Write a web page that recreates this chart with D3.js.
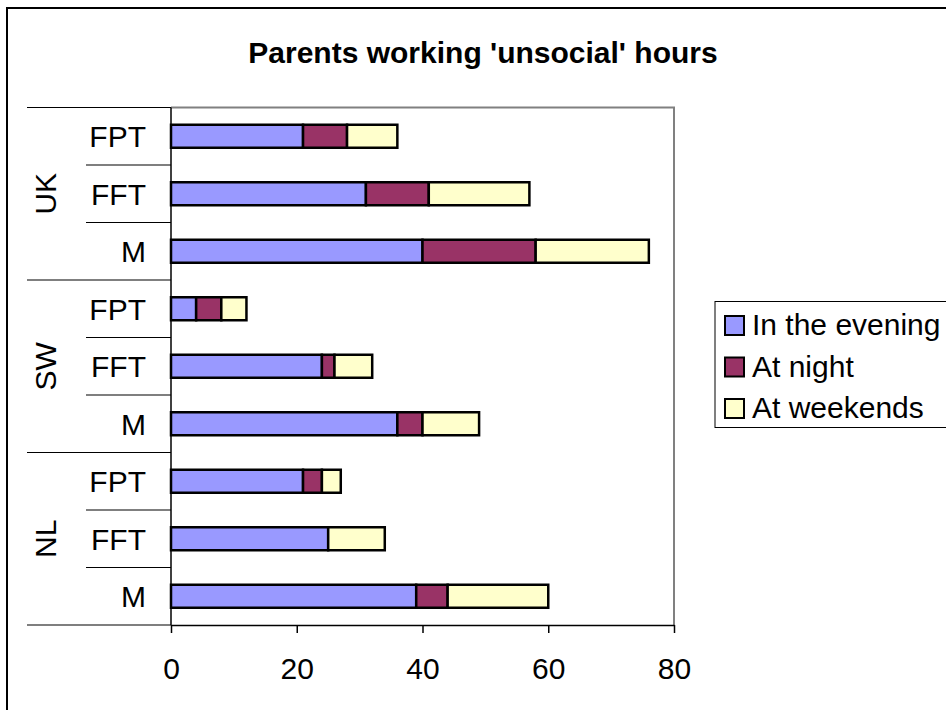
<!DOCTYPE html>
<html>
<head>
<meta charset="utf-8">
<script src="https://cdn.jsdelivr.net/npm/d3@7"></script>
<style>
  html, body { margin: 0; padding: 0; background: #fff; }
  svg { display: block; font-family: Arial, "Liberation Sans", sans-serif; }
</style>
</head>
<body>
<svg id="chart" width="946" height="710"></svg>
<script>
// ---- data ----
const title = "Parents working 'unsocial' hours";
const groups = ["UK", "SW", "NL"];
const subcats = ["FPT", "FFT", "M"];
const seriesNames = ["In the evening", "At night", "At weekends"];
const seriesColors = ["#9999FF", "#993366", "#FFFFCC"];
// values in row order: UK FPT, UK FFT, UK M, SW FPT, SW FFT, SW M, NL FPT, NL FFT, NL M
const evening  = [21, 31, 40, 4, 24, 36, 21, 25, 39];
const night    = [7, 10, 18, 4, 2, 4, 3, 0, 5];
const weekends = [8, 16, 18, 4, 6, 9, 3, 9, 16];
const xTicks = [0, 20, 40, 60, 80];

(function () {
const FS = 30;
// ---- build rows ----
const rows = [];
groups.forEach((g, gi) => subcats.forEach((s, si) => {
  const i = gi * subcats.length + si;
  rows.push({ key: g + "-" + s, group: g, sub: s, e: evening[i], n: night[i], w: weekends[i] });
}));

const svg = d3.select("#chart");
const pL = 171, pR = 674, pT = 107.5, pB = 625;

const x = d3.scaleLinear().domain([0, 80]).range([pL, pR]);
const y = d3.scaleBand().domain(rows.map(r => r.key)).range([pT, pB])
  .paddingInner(0.6).paddingOuter(0.3);
const color = d3.scaleOrdinal().domain(["e", "n", "w"]).range(seriesColors);

// outer chart border
svg.append("rect").attr("x", 7).attr("y", 8).attr("width", 960).attr("height", 720)
  .attr("fill", "#fff").attr("stroke", "#000").attr("stroke-width", 2);

// title
svg.append("text").attr("x", 483).attr("y", 63).attr("text-anchor", "middle")
  .attr("font-size", FS).attr("font-weight", "bold").attr("fill", "#000").text(title);

// plot area border (top and right gray)
svg.append("path")
  .attr("d", `M${pL},${pT}H${pR}V${pB}`)
  .attr("fill", "none").attr("stroke", "#808080").attr("stroke-width", 2);

// stacked bars
const stack = d3.stack().keys(["e", "n", "w"]);
const stacked = stack(rows);
const layers = svg.append("g").selectAll("g").data(stacked).join("g")
  .attr("fill", d => color(d.key));
layers.selectAll("rect").data(d => d.filter(p => p[1] - p[0] > 0)).join("rect")
  .attr("x", d => x(d[0]))
  .attr("y", d => y(d.data.key))
  .attr("width", d => x(d[1]) - x(d[0]))
  .attr("height", y.bandwidth())
  .attr("stroke", "#000").attr("stroke-width", 2.5);

// y axis line
svg.append("line").attr("x1", pL).attr("x2", pL).attr("y1", pT).attr("y2", pB)
  .attr("stroke", "#000").attr("stroke-width", 1.5);

// row divider lines (category axis ticks)
const step = y.step();
const bounds = d3.range(rows.length + 1).map(i => pT + i * step);
bounds.forEach((b, i) => {
  const isGroup = i % subcats.length === 0;
  svg.append("line")
    .attr("x1", isGroup ? 27 : 86).attr("x2", pL)
    .attr("y1", b).attr("y2", b)
    .attr("stroke", "#000").attr("stroke-width", 1.2);
});

// subcategory labels
svg.append("g").selectAll("text").data(rows).join("text")
  .attr("x", 146).attr("y", d => y(d.key) + y.bandwidth() / 2)
  .attr("dy", "0.36em").attr("text-anchor", "end")
  .attr("font-size", FS).attr("fill", "#000").text(d => d.sub);

// group labels (rotated)
groups.forEach((g, gi) => {
  const cy = pT + (gi * subcats.length + subcats.length / 2) * step;
  svg.append("text").attr("transform", `translate(45,${cy}) rotate(-90)`)
    .attr("text-anchor", "middle").attr("dy", "0.36em")
    .attr("font-size", FS).attr("fill", "#000").text(g);
});

// x axis
const xAxis = d3.axisBottom(x).tickValues(xTicks).tickSize(8).tickPadding(25).tickSizeOuter(0);
const gx = svg.append("g").attr("transform", `translate(0,${pB})`).call(xAxis);
gx.select(".domain").attr("stroke", "#000").attr("stroke-width", 1.5);
gx.selectAll(".tick line").attr("stroke", "#000").attr("stroke-width", 1.5);
gx.selectAll(".tick text").attr("font-size", FS).attr("fill", "#000")
  .attr("font-family", "Arial, 'Liberation Sans', sans-serif");

// legend
const lg = svg.append("g");
lg.append("rect").attr("x", 715).attr("y", 301.5).attr("width", 260).attr("height", 126)
  .attr("fill", "#fff").attr("stroke", "#000").attr("stroke-width", 1);
seriesNames.forEach((name, i) => {
  const by = 335 + i * 41.5;
  lg.append("rect").attr("x", 725).attr("y", by - 19).attr("width", 19).attr("height", 19)
    .attr("fill", seriesColors[i]).attr("stroke", "#000").attr("stroke-width", 2);
  lg.append("text").attr("x", 752).attr("y", by)
    .attr("font-size", FS).attr("fill", "#000").text(name);
});
})();
</script>
</body>
</html>
